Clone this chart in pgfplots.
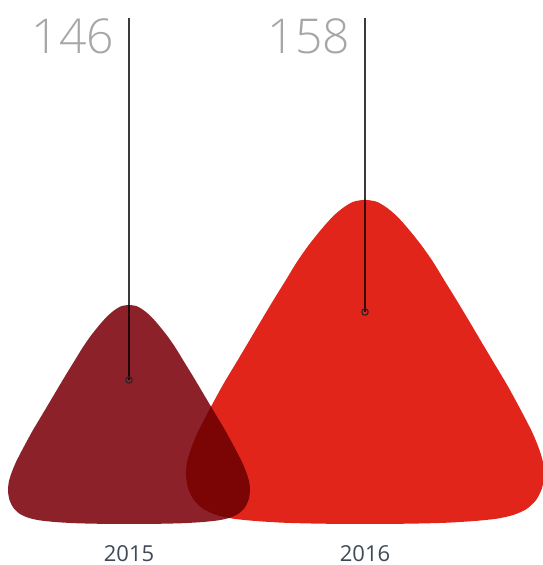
\documentclass[border=0pt]{standalone}
\usepackage{pgfplots}
\pgfplotsset{compat=1.18}
\usepackage{fontspec}
\setmainfont{Open Sans}
\IfFontExistsTF{Open Sans Light}{\newfontfamily\thinfont{Open Sans Light}}{\newfontfamily\thinfont{Open Sans}}
\definecolor{c15}{HTML}{8C2129}
\definecolor{c16}{HTML}{E1251B}
\definecolor{valgray}{HTML}{A6A6A6}
\definecolor{catgray}{HTML}{3F4A57}
\definecolor{stemgray}{HTML}{3A3A3A}
\begin{document}
\begin{tikzpicture}
\begin{axis}[
  scale only axis, width=543bp, height=565bp,
  xmin=0, xmax=543, ymin=0, ymax=565,
  hide axis, clip=false,
]
% stems and bullets (value markers)
\addplot[stemgray, line width=1.1bp] coordinates {(129,547) (129,185)};
\addplot[stemgray, line width=1.1bp] coordinates {(365,547) (365,253)};
\addplot[only marks, mark=o, mark size=3.2bp, mark options={draw=black!85, line width=1.1bp}] coordinates {(129,185) (365,253)};
% 2015 rounded triangle (value 146)
\addplot[draw=none, fill=c15, smooth, tension=0.45, blend mode=multiply] coordinates {
 (129,41) (100,41.2) (75,41.8) (55,43) (40,44.6) (29,47) (20,51) (13.5,57) (9.5,65) (8,74)
 (8.8,83) (11.5,92) (16,103) (24,118.5) (33,135) (42,150) (50,163.5) (58,177) (67,192) (75,205)
 (83,218) (91,229.5) (99,239.5) (107,248.5) (114,254.5) (121,258.7) (129,260)
 (137,258.7) (144,254.5) (151,248.5) (159,239.5) (167,229.5) (175,218) (183,205) (191,192)
 (200,177) (208,163.5) (216,150) (225,135) (234,118.5) (242,103) (246.5,92) (249.2,83) (250,74)
 (248.5,65) (244.5,57) (238,51) (229,47) (218,44.6) (203,43) (183,41.8) (158,41.2) (129,41)};
% 2016 rounded triangle (value 158)
\addplot[draw=none, fill=c16, smooth, tension=0.45, blend mode=multiply] coordinates {
 (365,41) (322.1,41.3) (285.1,42.2) (255.5,44.0) (233.3,46.3) (217.0,49.9) (203.7,55.8) (194.1,64.7)
 (188.1,76.5) (185.9,89.8) (187.1,103.2) (191.1,116.5) (197.8,132.8) (209.6,155.7) (222.9,180.1)
 (236.2,202.3) (248.1,222.3) (259.9,242.3) (273.2,264.5) (285.1,283.7) (296.9,303.0) (308.8,320.0)
 (320.6,334.8) (332.4,348.1) (342.8,357.0) (353.2,363.2) (365,365.1)
 (376.8,363.2) (387.2,357.0) (397.6,348.1) (409.4,334.8) (421.2,320.0) (433.1,303.0) (444.9,283.7)
 (456.8,264.5) (470.1,242.3) (481.9,222.3) (493.8,202.3) (507.1,180.1) (520.4,155.7) (532.2,132.8)
 (538.9,116.5) (542.9,103.2) (544.1,89.8) (541.9,76.5) (535.9,64.7) (526.3,55.8) (513.0,49.9)
 (496.7,46.3) (474.5,44.0) (444.9,42.2) (407.9,41.3) (365,41)};
% value labels
\node[anchor=base east, inner sep=0pt, text=valgray, font=\thinfont\fontsize{48bp}{56bp}\selectfont] at (axis cs:114,511) {146};
\node[anchor=base east, inner sep=0pt, text=valgray, font=\thinfont\fontsize{48bp}{56bp}\selectfont] at (axis cs:350,511) {158};
% category labels
\node[anchor=base, inner sep=0pt, text=catgray, font=\fontsize{22bp}{26bp}\selectfont] at (axis cs:129,4) {2015};
\node[anchor=base, inner sep=0pt, text=catgray, font=\fontsize{22bp}{26bp}\selectfont] at (axis cs:365,4) {2016};
\end{axis}
\pgfresetboundingbox
\path (0,0) rectangle (543bp,565bp);
\end{tikzpicture}
\end{document}
